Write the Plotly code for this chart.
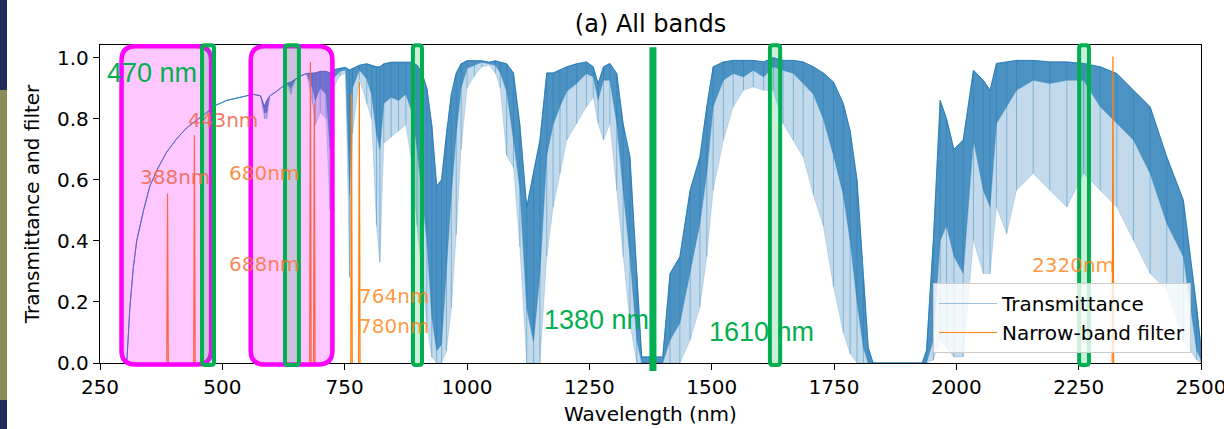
import plotly.graph_objects as go

# ---------------- data ----------------
WAVELENGTH_NM = [
    300, 305, 311, 318, 325, 339, 352, 369, 386, 407,
    427, 447, 468, 488, 509, 536, 563, 578, 586, 591,
    597, 611, 631, 640, 650, 660, 672, 684, 690, 700,
    712, 720, 726, 740, 752, 760, 766, 780, 795, 805,
    815, 822, 830, 845, 860, 875, 888, 898, 908, 918,
    928, 938, 948, 958, 968, 978, 988, 1000, 1015, 1030,
    1045, 1058, 1068, 1081, 1095, 1108, 1122, 1136, 1149, 1163,
    1176, 1190, 1204, 1224, 1244, 1258, 1268, 1279, 1292, 1306,
    1319, 1333, 1347, 1357, 1400, 1415, 1435, 1456, 1476, 1490,
    1503, 1524, 1544, 1565, 1585, 1606, 1626, 1646, 1667, 1687,
    1708, 1728, 1749, 1769, 1783, 1797, 1810, 1820, 1830, 1930,
    1939, 1953, 1967, 1980, 1995, 2014, 2035, 2055, 2069, 2082,
    2103, 2123, 2157, 2191, 2226, 2260, 2294, 2328, 2362, 2396,
    2430, 2464, 2491, 2500,
]

# upper envelope of the transmittance lines
T_UPPER = [
    0.0, 0.01, 0.18, 0.31, 0.40, 0.50, 0.58, 0.64, 0.69, 0.735,
    0.77, 0.795, 0.82, 0.845, 0.86, 0.87, 0.88, 0.875, 0.84, 0.86,
    0.875, 0.89, 0.915, 0.92, 0.93, 0.94, 0.948, 0.95, 0.95, 0.955,
    0.955, 0.95, 0.96, 0.965, 0.968, 0.96, 0.965, 0.975, 0.98, 0.975,
    0.97, 0.97, 0.98, 0.985, 0.985, 0.985, 0.985, 0.975, 0.95, 0.90,
    0.78, 0.58, 0.60, 0.75, 0.88, 0.95, 0.98, 0.99, 0.99, 0.99,
    0.985, 0.99, 0.985, 0.98, 0.95, 0.78, 0.51, 0.62, 0.73, 0.95,
    0.95, 0.96, 0.97, 0.98, 0.986, 0.97, 0.915, 0.97, 0.981, 0.948,
    0.784, 0.675, 0.293, 0.02, 0.02, 0.293, 0.348, 0.566, 0.675, 0.839,
    0.97, 0.986, 0.991, 0.991, 0.991, 0.986, 1.0, 0.991, 0.991, 0.986,
    0.97, 0.95, 0.92, 0.85, 0.76, 0.60, 0.27, 0.05, 0.0, 0.0,
    0.04, 0.40, 0.86, 0.80, 0.70, 0.73, 0.959, 0.926, 0.893, 0.981,
    0.986, 0.991, 0.991, 0.986, 0.986, 0.981, 0.97, 0.948, 0.893, 0.839,
    0.675, 0.533, 0.184, 0.05,
]

# lower edge of the dense band of absorption lines
T_DENSE_LOW = [
    0.0, 0.01, 0.18, 0.31, 0.40, 0.50, 0.58, 0.64, 0.69, 0.735,
    0.77, 0.795, 0.82, 0.845, 0.86, 0.87, 0.88, 0.875, 0.82, 0.82,
    0.875, 0.89, 0.915, 0.90, 0.93, 0.94, 0.948, 0.90, 0.86, 0.90,
    0.88, 0.70, 0.93, 0.955, 0.96, 0.55, 0.90, 0.96, 0.93, 0.88,
    0.75, 0.70, 0.85, 0.87, 0.86, 0.88, 0.82, 0.70, 0.55, 0.40,
    0.15, 0.04, 0.06, 0.30, 0.55, 0.75, 0.90, 0.965, 0.975, 0.985,
    0.98, 0.975, 0.95, 0.89, 0.73, 0.57, 0.18, 0.07, 0.29, 0.68,
    0.78, 0.84, 0.89, 0.915, 0.948, 0.937, 0.861, 0.926, 0.926, 0.784,
    0.566, 0.348, 0.075, 0.0, 0.0, 0.075, 0.13, 0.293, 0.457, 0.621,
    0.839, 0.926, 0.948, 0.937, 0.959, 0.937, 0.97, 0.959, 0.948, 0.915,
    0.88, 0.80, 0.68, 0.55, 0.40, 0.20, 0.05, 0.0, 0.0, 0.0,
    0.0, 0.075, 0.40, 0.45, 0.35, 0.293, 0.73, 0.566, 0.511, 0.784,
    0.839, 0.893, 0.926, 0.915, 0.926, 0.926, 0.839, 0.784, 0.730, 0.621,
    0.457, 0.348, 0.042, 0.01,
]

# bottom of the deepest isolated absorption lines
T_SPIKE_LOW = [
    0.0, 0.01, 0.18, 0.31, 0.40, 0.50, 0.58, 0.64, 0.69, 0.735,
    0.77, 0.795, 0.82, 0.845, 0.86, 0.87, 0.88, 0.875, 0.80, 0.80,
    0.875, 0.89, 0.915, 0.88, 0.93, 0.94, 0.948, 0.85, 0.78, 0.82,
    0.80, 0.50, 0.90, 0.94, 0.95, 0.28, 0.75, 0.93, 0.85, 0.80,
    0.45, 0.33, 0.72, 0.74, 0.76, 0.78, 0.65, 0.45, 0.30, 0.12,
    0.02, 0.0, 0.0, 0.04, 0.18, 0.42, 0.70, 0.90, 0.94, 0.97,
    0.975, 0.95, 0.90, 0.68, 0.64, 0.38, 0.0, 0.0, 0.0, 0.35,
    0.51, 0.62, 0.73, 0.784, 0.839, 0.87, 0.784, 0.73, 0.784, 0.566,
    0.348, 0.13, 0.0, 0.0, 0.0, 0.0, 0.0, 0.075, 0.184, 0.348,
    0.566, 0.73, 0.839, 0.893, 0.904, 0.893, 0.893, 0.784, 0.73, 0.675,
    0.55, 0.45, 0.25, 0.10, 0.03, 0.0, 0.0, 0.0, 0.0, 0.0,
    0.0, 0.01, 0.075, 0.05, 0.02, 0.02, 0.402, 0.293, 0.293, 0.511,
    0.424, 0.566, 0.621, 0.566, 0.511, 0.621, 0.566, 0.511, 0.402, 0.293,
    0.239, 0.075, 0.01, 0.0,
]

FILTER_CENTER_NM = [388, 443, 680, 688, 764, 780, 2320]
FILTER_PEAK = [0.555, 0.746, 0.986, 0.85, 0.882, 0.92, 1.004]
FILTER_HALF_BASE_NM = 1.5
FILTER_LABELS = ["388nm", "443nm", "680nm", "688nm", "764nm", "780nm", "2320nm"]

X_TICKS = [250, 500, 750, 1000, 1250, 1500, 1750, 2000, 2250, 2500]
Y_TICKS = [0.0, 0.2, 0.4, 0.6, 0.8, 1.0]

# ---------------- layout constants ----------------
W, H = 1224, 429
ML, MR, MT, MB = 100, 23, 45, 66
PLOT_W = W - ML - MR
PLOT_H = H - MT - MB
X_MIN, X_MAX = 250, 2500
Y_MIN, Y_MAX = 0.0, 1.0415

BLUE = "#1f77b4"
ORANGE = "#ff7f0e"
GREEN = "#00b050"
MAGENTA = "#ff00ff"
MPL_FONT = "DejaVu Sans"
SLIDE_FONT = "Liberation Sans"


def px(lam):
    return (lam - X_MIN) / (X_MAX - X_MIN)


def py(val):
    return (val - Y_MIN) / (Y_MAX - Y_MIN)


def ypx(p):
    return (H - MB - p) / PLOT_H


def rounded_rect(x0, x1, y0, y1, r_px):
    """rounded rectangle path in paper coordinates, from data-space bounds"""
    a, b = px(x0), px(x1)
    c, d = py(y0), py(y1)
    rx = r_px / PLOT_W
    ry = r_px / PLOT_H
    return (f"M {a+rx},{c} L {b-rx},{c} Q {b},{c} {b},{c+ry} "
            f"L {b},{d-ry} Q {b},{d} {b-rx},{d} L {a+rx},{d} "
            f"Q {a},{d} {a},{d-ry} L {a},{c+ry} Q {a},{c} {a+rx},{c} Z")


fig = go.Figure()

# sparse absorption lines (light)
fig.add_trace(go.Scatter(x=WAVELENGTH_NM, y=T_SPIKE_LOW, mode="lines",
                         line=dict(color="rgba(31,119,180,0.3)", width=0.6),
                         showlegend=False, hoverinfo="skip"))
fig.add_trace(go.Scatter(x=WAVELENGTH_NM, y=T_DENSE_LOW, mode="lines",
                         line=dict(color="rgba(31,119,180,0.6)", width=0.6),
                         fill="tonexty", fillcolor="rgba(31,119,180,0.27)",
                         showlegend=False, hoverinfo="skip"))
# dense band of lines
fig.add_trace(go.Scatter(x=WAVELENGTH_NM, y=T_UPPER, mode="lines",
                         line=dict(color=BLUE, width=0.8),
                         fill="tonexty", fillcolor="rgba(31,119,180,0.8)",
                         showlegend=False, hoverinfo="skip"))

# individual absorption strokes at each sampled wavelength (deepest reach -> top)
hx, hy = [], []
for lam, lo, hi in zip(WAVELENGTH_NM, T_SPIKE_LOW, T_UPPER):
    if hi - lo > 0.02:
        hx += [lam, lam, None]
        hy += [lo, hi, None]
fig.add_trace(go.Scatter(x=hx, y=hy, mode="lines",
                         line=dict(color="rgba(31,119,180,0.5)", width=0.8),
                         showlegend=False, hoverinfo="skip"))

# top line, carries the legend entry
fig.add_trace(go.Scatter(x=WAVELENGTH_NM, y=T_UPPER, mode="lines",
                         name="Transmittance",
                         line=dict(color="rgba(31,119,180,0.55)", width=0.8)))

# narrow-band filters
fx, fy = [], []
for c, p in zip(FILTER_CENTER_NM, FILTER_PEAK):
    fx += [c - FILTER_HALF_BASE_NM, c, c + FILTER_HALF_BASE_NM, None]
    fy += [0.0, p, 0.0, None]
fig.add_trace(go.Scatter(x=fx, y=fy, mode="lines", name="Narrow-band filter",
                         line=dict(color=ORANGE, width=1.2)))

# ---------------- overlays (slide markup) ----------------
shapes = []
# slide background sliver at left edge
stripe_x0, stripe_x1 = -ML / PLOT_W, (-ML + 7) / PLOT_W
for top, bottom, col in [(0, 90, "#232b5a"), (90, 400, "#8c8a55"), (400, 429, "#232b5a")]:
    shapes.append(dict(type="rect", xref="paper", yref="paper", x0=stripe_x0, x1=stripe_x1,
                       y0=ypx(bottom), y1=ypx(top), fillcolor=col,
                       line=dict(width=0), layer="below"))

MAGENTA_BOXES_NM = [(294, 477), (558, 725)]
for x0, x1 in MAGENTA_BOXES_NM:
    shapes.append(dict(type="path", xref="paper", yref="paper",
                       path=rounded_rect(x0, x1, -0.005, 1.037, 14),
                       fillcolor="rgba(255,0,255,0.22)",
                       line=dict(color=MAGENTA, width=4.5), layer="above"))

GREEN_BOXES_NM = [(458.5, 483), (628, 656.5), (889.5, 908), (1619, 1640), (2251, 2271)]
for x0, x1 in GREEN_BOXES_NM:
    shapes.append(dict(type="path", xref="paper", yref="paper",
                       path=rounded_rect(x0, x1, -0.0065, 1.0405, 3),
                       fillcolor="rgba(0,176,80,0.2)",
                       line=dict(color=GREEN, width=4), layer="above"))
# 1380 nm band drawn as a solid bar
shapes.append(dict(type="line", xref="paper", yref="paper",
                   x0=px(1380), x1=px(1380), y0=py(-0.026), y1=py(1.034),
                   line=dict(color=GREEN, width=7), layer="above"))

annotations = []
FILTER_LABEL_POS = [(403, 0.609), (501, 0.795), (585, 0.622), (585, 0.324),
                    (851, 0.219), (851, 0.121), (2239, 0.321)]
# labels sitting under the translucent magenta boxes look salmon in the reference
FILTER_LABEL_COLOR = ["rgba(240,105,80,0.9)", "rgba(240,105,80,0.9)",
                      "rgba(245,125,40,0.85)", "rgba(245,115,60,0.85)",
                      "rgba(255,127,14,0.8)", "rgba(255,127,14,0.8)", "rgba(255,127,14,0.8)"]
for txt, (lx, ly), col in zip(FILTER_LABELS, FILTER_LABEL_POS, FILTER_LABEL_COLOR):
    annotations.append(dict(x=lx, y=ly, xref="x", yref="y", text=txt, showarrow=False,
                            font=dict(family=MPL_FONT, size=20, color=col),
                            xanchor="center", yanchor="middle"))

BAND_LABELS = ["470 nm", "640 nm", "870 nm", "1380 nm", "1610 nm", "2250 nm"]
BAND_LABEL_POS = [(356, 0.951), (679, 1.119), (931, 1.119), (1264, 0.141),
                  (1602, 0.101), (2115, 1.116)]
for txt, (lx, ly) in zip(BAND_LABELS, BAND_LABEL_POS):
    annotations.append(dict(x=lx, y=ly, xref="x", yref="y", text=txt, showarrow=False,
                            font=dict(family=SLIDE_FONT, size=27, color=GREEN),
                            xanchor="center", yanchor="middle"))

axis_common = dict(showline=True, mirror=True, linecolor="black", linewidth=1.3,
                   ticks="outside", ticklen=6, tickwidth=1.3, tickcolor="black",
                   showgrid=False, zeroline=False, ticklabeloverflow="allow",
                   tickfont=dict(family=MPL_FONT, size=20, color="black"))

fig.update_layout(
    width=W, height=H,
    margin=dict(l=ML, r=MR, t=MT, b=MB, autoexpand=False),
    paper_bgcolor="white", plot_bgcolor="white",
    title=dict(text="(a) All bands", x=(ML + PLOT_W / 2) / W, xanchor="center",
               y=1 - 24 / H, yanchor="middle",
               font=dict(family=MPL_FONT, size=24, color="black")),
    xaxis=dict(range=[X_MIN, X_MAX], tickvals=X_TICKS,
               title=dict(text="Wavelength (nm)", standoff=8,
                           font=dict(family=MPL_FONT, size=20, color="black")),
               **axis_common),
    yaxis=dict(range=[Y_MIN, Y_MAX], tickvals=Y_TICKS,
               ticktext=[f"{v:.1f}" for v in Y_TICKS],
               title=dict(text="Transmittance and filter", standoff=12,
                           font=dict(family=MPL_FONT, size=20, color="black")),
               **axis_common),
    legend=dict(x=(1191 - ML) / PLOT_W, xanchor="right", y=10 / PLOT_H, yanchor="bottom",
                traceorder="normal", itemwidth=58,
                bgcolor="rgba(255,255,255,0.8)", bordercolor="#cccccc", borderwidth=1,
                font=dict(family=MPL_FONT, size=20, color="black"), tracegroupgap=0),
    shapes=shapes,
    annotations=annotations,
)

fig.write_html(
    "out.html",
    config={"displayModeBar": False},
    post_script="document.body.style.margin='0';document.body.style.overflow='hidden';",
)
